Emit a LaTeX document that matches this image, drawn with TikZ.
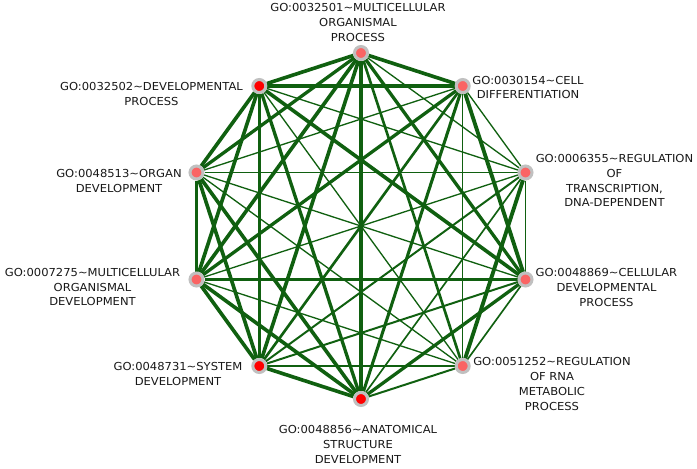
\documentclass[tikz,border=0pt]{standalone}
\usepackage{fontspec}
\usetikzlibrary{backgrounds}
\newfontfamily\labfont[FakeStretch=1.05]{DejaVu Sans}
\definecolor{edgegreen}{RGB}{16,96,16}
\definecolor{ringgray}{RGB}{192,192,192}
\definecolor{nodered}{RGB}{255,0,0}
\definecolor{nodepink}{RGB}{250,100,100}
\definecolor{labcol}{RGB}{25,25,25}
\begin{document}
\begin{tikzpicture}[x=1pt,y=-1pt,
  go/.style={circle,draw=ringgray,line width=3pt,minimum size=13pt,inner sep=0pt},
  hot/.style={go,fill=nodered},
  warm/.style={go,fill=nodepink},
  lab/.style={font=\labfont\fontsize{11}{14.7}\selectfont,text=labcol,align=center,inner sep=0pt},
  lk/.style={draw=edgegreen,line width=1.1*#1pt}]
\useasboundingbox (0,0) rectangle (697,469);
% nodes
\node[warm] (A) at (361,53) {};
\node[warm] (B) at (462.7,86) {};
\node[warm] (C) at (525.5,172.5) {};
\node[warm] (D) at (525.5,279.5) {};
\node[warm] (E) at (462.7,366) {};
\node[hot]  (F) at (361,399) {};
\node[hot]  (G) at (259.3,366) {};
\node[warm] (H) at (196.5,279.5) {};
\node[warm] (I) at (196.5,172.5) {};
\node[hot]  (J) at (259.3,86) {};
% labels
\node[lab] (lA) at (358,22.3) {GO:0032501\textasciitilde MULTICELLULAR\\ORGANISMAL\\PROCESS};
\node[lab] (lB) at (528,87.5) {GO:0030154\textasciitilde CELL\\DIFFERENTIATION};
\node[lab] (lC) at (614.5,180.8) {GO:0006355\textasciitilde REGULATION\\OF\\TRANSCRIPTION,\\DNA-DEPENDENT};
\node[lab] (lD) at (606.5,287.3) {GO:0048869\textasciitilde CELLULAR\\DEVELOPMENTAL\\PROCESS};
\node[lab] (lE) at (552,384) {GO:0051252\textasciitilde REGULATION\\OF RNA\\METABOLIC\\PROCESS};
\node[lab] (lF) at (358,444.3) {GO:0048856\textasciitilde ANATOMICAL\\STRUCTURE\\DEVELOPMENT};
\node[lab] (lG) at (178,374) {GO:0048731\textasciitilde SYSTEM\\DEVELOPMENT};
\node[lab] (lH) at (92.5,287.2) {GO:0007275\textasciitilde MULTICELLULAR\\ORGANISMAL\\DEVELOPMENT};
\node[lab] (lI) at (119,180.8) {GO:0048513\textasciitilde ORGAN\\DEVELOPMENT};
\node[lab] (lJ) at (151.5,94.2) {GO:0032502\textasciitilde DEVELOPMENTAL\\PROCESS};
% edges
\begin{pgfonlayer}{background}
\fill[white] (0,0) rectangle (697,469);
\draw[lk=3.3] (A) -- (B);
\draw[lk=1.2] (A) -- (C);
\draw[lk=3.0] (A) -- (D);
\draw[lk=2.4] (A) -- (E);
\draw[lk=3.0] (A) -- (F);
\draw[lk=3.3] (A) -- (G);
\draw[lk=3.3] (A) -- (H);
\draw[lk=3.0] (A) -- (I);
\draw[lk=3.3] (A) -- (J);
\draw[lk=1.2] (B) -- (C);
\draw[lk=3.5] (B) -- (D);
\draw[lk=1.2] (B) -- (E);
\draw[lk=2.8] (B) -- (F);
\draw[lk=2.4] (B) -- (G);
\draw[lk=3.0] (B) -- (H);
\draw[lk=1.2] (B) -- (I);
\draw[lk=3.3] (B) -- (J);
\draw[lk=1.2] (C) -- (D);
\draw[lk=3.5] (C) -- (E);
\draw[lk=1.5] (C) -- (F);
\draw[lk=1.8] (C) -- (G);
\draw[lk=1.2] (C) -- (H);
\draw[lk=1.2] (C) -- (I);
\draw[lk=1.2] (C) -- (J);
\draw[lk=1.5] (D) -- (E);
\draw[lk=3.0] (D) -- (F);
\draw[lk=1.8] (D) -- (G);
\draw[lk=2.4] (D) -- (H);
\draw[lk=1.2] (D) -- (I);
\draw[lk=3.3] (D) -- (J);
\draw[lk=1.8] (E) -- (F);
\draw[lk=1.2] (E) -- (G);
\draw[lk=1.2] (E) -- (H);
\draw[lk=1.2] (E) -- (I);
\draw[lk=1.2] (E) -- (J);
\draw[lk=3.3] (F) -- (G);
\draw[lk=3.3] (F) -- (H);
\draw[lk=3.3] (F) -- (I);
\draw[lk=3.0] (F) -- (J);
\draw[lk=3.3] (G) -- (H);
\draw[lk=3.3] (G) -- (I);
\draw[lk=3.0] (G) -- (J);
\draw[lk=3.3] (H) -- (I);
\draw[lk=3.3] (H) -- (J);
\draw[lk=3.3] (I) -- (J);
\end{pgfonlayer}
\end{tikzpicture}
\end{document}
